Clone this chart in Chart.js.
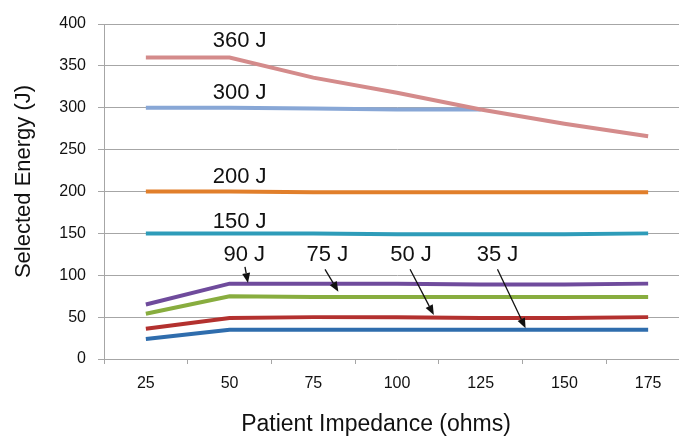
<!DOCTYPE html>
<html>
<head>
<meta charset="utf-8">
<script src="https://cdn.jsdelivr.net/npm/chart.js@4.4.0/dist/chart.umd.min.js"></script>
<style>
    html, body { margin: 0; padding: 0; background: #fff; overflow: hidden; }
    #wrap { position: relative; width: 679px; height: 436px; overflow: hidden; }
    canvas { display: block; }
</style>
</head>
<body>
<div id="wrap"><canvas id="chart" width="690" height="436"></canvas></div>
<script>
// Patient impedance categories (ohms)
const impedance = ['25', '50', '75', '100', '125', '150', '175'];

// Delivered energy per selected setting (J)
const e360 = [360, 360, 336, 318, 298, 281, 266];
const e300 = [300, 300, 299, 298, 298, null, null];
const e200 = [200, 200, 199, 199, 199, 199, 199];
const e150 = [150, 150, 150, 149, 149, 149, 150];
const e90 = [65, 90, 90, 90, 89, 89, 90];
const e75 = [54, 75, 74, 74, 74, 74, 74];
const e50 = [36, 49, 50, 50, 49, 49, 50];
const e35 = [24, 35, 35, 35, 35, 35, 35];

const yTicks = [0, 50, 100, 150, 200, 250, 300, 350, 400];

// Series labels drawn on the plot (text centre, in ohms / joules)
const noteText = ['360 J', '300 J', '200 J', '150 J', '90 J', '75 J', '50 J', '35 J'];
const noteOhms = [53, 53, 53, 53, 54.4, 79.2, 104.2, 130];
const noteJ = [382, 320, 220, 165.5, 126.2, 126.2, 126.2, 126.2];

// Arrows from label to line (ohms / joules)
const arrowFromOhms = [54.6, 78.5, 103.9, 130];
const arrowFromJ = [110, 107.1, 107.1, 107.1];
const arrowToOhms = [55.5, 82.5, 111, 138.4];
const arrowToJ = [90.7, 80.4, 52.5, 36.7];

const FONT = '"Liberation Sans", Arial, Helvetica, sans-serif';
const GRID = '#a6a6a6';

// ohms -> category index (fractional)
function ohmsToIndex(v) {
    return (v - 25) / 25;
}

function series(label, data, color, order) {
    return {
        label: label,
        data: data,
        borderColor: color,
        backgroundColor: color,
        borderWidth: 4,
        pointRadius: 0,
        pointHoverRadius: 0,
        tension: 0,
        spanGaps: false,
        order: order
    };
}

// Labels, arrows and axis titles
const notesPlugin = {
    id: 'notes',
    afterDatasetsDraw(chart) {
        const ctx = chart.ctx;
        const x = chart.scales.x;
        const y = chart.scales.y;
        ctx.save();
        ctx.fillStyle = '#111';
        ctx.textAlign = 'center';
        ctx.textBaseline = 'alphabetic';
        ctx.font = '22px ' + FONT;
        noteText.forEach((t, i) => {
            const px = x.getPixelForValue(ohmsToIndex(noteOhms[i]));
            const py = y.getPixelForValue(noteJ[i]) + 22 * 0.358;
            ctx.fillText(t, px, py);
        });

        ctx.strokeStyle = '#111';
        ctx.lineWidth = 1.3;
        arrowFromOhms.forEach((o, i) => {
            const x1 = x.getPixelForValue(ohmsToIndex(o));
            const y1 = y.getPixelForValue(arrowFromJ[i]);
            const x2 = x.getPixelForValue(ohmsToIndex(arrowToOhms[i]));
            const y2 = y.getPixelForValue(arrowToJ[i]);
            const a = Math.atan2(y2 - y1, x2 - x1);
            const len = 10, half = 4;
            const bx = x2 - len * Math.cos(a), by = y2 - len * Math.sin(a);
            ctx.beginPath();
            ctx.moveTo(x1, y1);
            ctx.lineTo(bx, by);
            ctx.stroke();
            ctx.beginPath();
            ctx.moveTo(x2, y2);
            ctx.lineTo(bx + half * Math.sin(a), by - half * Math.cos(a));
            ctx.lineTo(bx - half * Math.sin(a), by + half * Math.cos(a));
            ctx.closePath();
            ctx.fill();
        });

        // axis titles
        const area = chart.chartArea;
        ctx.font = '23px ' + FONT;
        ctx.textBaseline = 'middle';
        ctx.fillText('Patient Impedance (ohms)', 376, 425);
        ctx.translate(24, (area.top + area.bottom) / 2 - 10);
        ctx.rotate(-Math.PI / 2);
        ctx.font = '22px ' + FONT;
        ctx.fillText('Selected Energy (J)', 0, 0);
        ctx.restore();
    }
};

const ctx = document.getElementById('chart').getContext('2d');
new Chart(ctx, {
    type: 'line',
    data: {
        labels: impedance,
        datasets: [
            series('360 J', e360, '#d48b8b', 1),
            series('300 J', e300, '#88a7d6', 2),
            series('200 J', e200, '#e17f2b', 3),
            series('150 J', e150, '#2e9cb9', 4),
            series('90 J', e90, '#6f4b9c', 5),
            series('75 J', e75, '#88ad3f', 6),
            series('50 J', e50, '#b3312f', 7),
            series('35 J', e35, '#2f6dad', 8)
        ]
    },
    options: {
        responsive: false,
        animation: false,
        layout: { padding: { top: 24, left: 0, right: 0, bottom: 0 } },
        plugins: {
            legend: { display: false },
            tooltip: { enabled: false }
        },
        scales: {
            x: {
                type: 'category',
                offset: true,
                grid: {
                    offset: true,
                    drawOnChartArea: false,
                    drawTicks: true,
                    tickLength: 5,
                    color: GRID
                },
                border: { color: GRID, width: 1 },
                ticks: {
                    color: '#111',
                    font: { family: FONT, size: 16 },
                    padding: 10,
                    maxRotation: 0
                },
                afterFit(scale) { scale.height = 77; }
            },
            y: {
                min: 0,
                max: 400,
                afterBuildTicks(scale) {
                    scale.ticks = yTicks.map(v => ({ value: v }));
                },
                grid: {
                    color: GRID,
                    tickLength: 6
                },
                border: { color: GRID, width: 1 },
                ticks: {
                    color: '#111',
                    font: { family: FONT, size: 16 },
                    padding: 12
                },
                afterFit(scale) { scale.width = 104; }
            }
        }
    },
    plugins: [notesPlugin]
});
</script>
</body>
</html>
